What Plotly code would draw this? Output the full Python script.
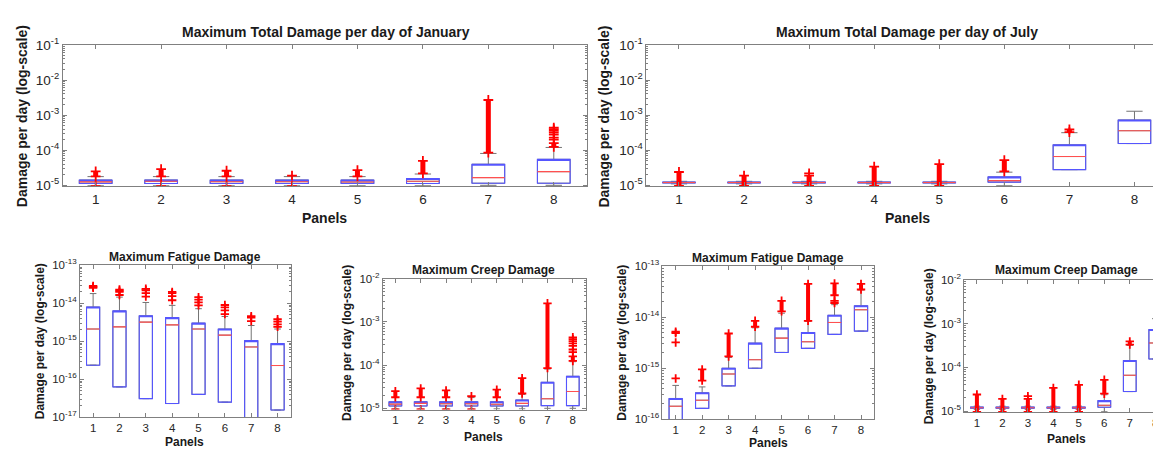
import plotly.graph_objects as go

FONT = "Liberation Sans, Arial, sans-serif"
panels = [1, 2, 3, 4, 5, 6, 7, 8]
panel_labels = ["1", "2", "3", "4", "5", "6", "7", "8"]

# ---------------- January total damage (also = January creep damage) ----------------
jan_lw = [9.7e-6, 9.7e-6, 9.7e-6, 9.7e-6, 9.7e-6, 9.7e-6, 1.0e-5, 1.0e-5]
jan_q1 = [1.13e-5, 1.13e-5, 1.13e-5, 1.13e-5, 1.13e-5, 1.13e-5, 1.15e-5, 1.15e-5]
jan_med = [1.25e-5, 1.30e-5, 1.27e-5, 1.27e-5, 1.24e-5, 1.30e-5, 1.66e-5, 2.45e-5]
jan_q3 = [1.42e-5, 1.42e-5, 1.42e-5, 1.42e-5, 1.42e-5, 1.56e-5, 4.0e-5, 5.5e-5]
jan_uw = [1.77e-5, 1.77e-5, 1.77e-5, 1.77e-5, 1.77e-5, 2.1e-5, 8.1e-5, 1.2e-4]
jan_band_lo = [1.8e-5, 1.8e-5, 1.8e-5, None, 1.8e-5, 2.2e-5, 8.5e-5, 1.25e-4]
jan_band_hi = [2.5e-5, 2.9e-5, 2.6e-5, None, 2.7e-5, 5.0e-5, 2.7e-3, 1.6e-4]
jan_points = [[9.4e-6], [9.4e-6], [9.4e-6], [9.4e-6, 1.9e-5], [], [], [],
              [2.0e-4, 2.3e-4, 2.8e-4, 3.2e-4, 3.6e-4, 4.0e-4, 4.4e-4]]

# ---------------- July total damage (also = July creep damage) ----------------
jul_lw = [1.1e-5, 1.1e-5, 1.1e-5, 1.1e-5, 1.1e-5, 9.7e-6, 2.8e-5, 1.55e-4]
jul_q1 = [1.17e-5, 1.17e-5, 1.17e-5, 1.17e-5, 1.17e-5, 1.23e-5, 2.8e-5, 1.55e-4]
jul_med = [1.2e-5, 1.2e-5, 1.2e-5, 1.2e-5, 1.2e-5, 1.36e-5, 6.6e-5, 3.6e-4]
jul_q3 = [1.24e-5, 1.24e-5, 1.24e-5, 1.24e-5, 1.24e-5, 1.74e-5, 1.43e-4, 7.3e-4]
jul_uw = [1.3e-5, 1.3e-5, 1.3e-5, 1.3e-5, 1.3e-5, 2.37e-5, 3.16e-4, 1.29e-3]
jul_band_lo = [9.6e-6, 9.6e-6, 9.6e-6, 9.6e-6, 9.6e-6, 2.5e-5, 3.3e-4, None]
jul_band_hi = [2.4e-5, 1.9e-5, 1.9e-5, 3.4e-5, 4.0e-5, 5.2e-5, 3.9e-4, None]
jul_points = [[], [], [2.2e-5], [], [], [], [], []]

# ---------------- January fatigue damage ----------------
fjan_q1 = [2.35e-16, 6.3e-17, 3.1e-17, 2.3e-17, 4.0e-17, 2.5e-17, 9.0e-18, 1.55e-17]
fjan_lw = [2.35e-16, 6.3e-17, 3.1e-17, 2.3e-17, 4.0e-17, 2.5e-17, 9.0e-18, 1.55e-17]
fjan_med = [2.1e-15, 2.4e-15, 3.2e-15, 2.7e-15, 2.1e-15, 1.45e-15, 7.1e-16, 2.3e-16]
fjan_q3 = [8.0e-15, 6.3e-15, 4.7e-15, 4.2e-15, 3.0e-15, 2.1e-15, 1.04e-15, 8.7e-16]
fjan_uw = [1.8e-14, 1.45e-14, 1.05e-14, 8.8e-15, 7.2e-15, 4.5e-15, 2.6e-15, 2.1e-15]
fjan_band_lo = [None, None, None, None, None, None, None, None]
fjan_band_hi = [None, None, None, None, None, None, None, None]
fjan_points = [[2.55e-14, 2.7e-14, 2.85e-14],
               [1.65e-14, 2.0e-14, 2.15e-14, 2.3e-14],
               [1.5e-14, 1.85e-14, 2.2e-14, 2.4e-14],
               [1.2e-14, 1.55e-14, 1.85e-14, 2.0e-14],
               [8.8e-15, 1.05e-14, 1.25e-14, 1.45e-14],
               [5.2e-15, 6.5e-15, 7.8e-15, 9.0e-15],
               [3.4e-15, 4.2e-15, 4.6e-15],
               [2.4e-15, 2.8e-15, 3.3e-15, 3.8e-15]]

# ---------------- July fatigue damage ----------------
fjul_q1 = [9.0e-17, 1.63e-16, 4.5e-16, 1.0e-15, 2.04e-15, 2.45e-15, 4.6e-15, 5.35e-15]
fjul_lw = [9.0e-17, 1.63e-16, 4.5e-16, 1.0e-15, 2.04e-15, 2.45e-15, 4.6e-15, 5.35e-15]
fjul_med = [1.8e-16, 2.36e-16, 7.7e-16, 1.47e-15, 3.9e-15, 3.3e-15, 7.9e-15, 1.4e-14]
fjul_q3 = [2.55e-16, 3.3e-16, 1.0e-15, 3.1e-15, 6.1e-15, 5.0e-15, 1.09e-14, 1.68e-14]
fjul_uw = [4.6e-16, 4.3e-16, 1.63e-15, 6.2e-15, 1.2e-14, 8.3e-15, 1.76e-14, 3.43e-14]
fjul_band_lo = [None, 5.7e-16, 1.7e-15, 6.5e-15, 1.3e-14, 8.5e-15, 2.7e-14, 3.5e-14]
fjul_band_hi = [None, 9.5e-16, 4.8e-15, 8.5e-15, 2.1e-14, 4.5e-14, 4.6e-14, 4.5e-14]
fjul_points = [[6.3e-16, 3.2e-15, 4.9e-15, 5.2e-15], [], [], [], [], [],
               [1.9e-14, 2.1e-14], []]

# ---------------- text ----------------
title_jan = "Maximum Total Damage per day of January"
title_jul = "Maximum Total Damage per day of July"
title_fat = "Maximum Fatigue Damage"
title_creep = "Maximum Creep Damage"
ylabel = "Damage per day (log-scale)"
xlabel = "Panels"

W, H = 1161, 449
BOX_BLUE = "rgb(85,85,255)"
MED_RED = "rgb(255,80,80)"
WHISK = "rgb(115,115,115)"
OUT_RED = "rgb(255,0,0)"
AXC = "#808080"
TXT = "#262626"

# subplot geometry in pixels: (left, right, top, bottom)
geom = {
    1: (55, 579, 28, 175),
    2: (639, 1160, 28, 175),
    3: (72, 283, 257, 415),
    4: (375, 578, 271, 407),
    5: (655, 867, 258, 417),
    6: (957, 1161, 272, 410),
}

fig = go.Figure()


def sup(e):
    return "10<sup>%d</sup>" % e


def add_panel(k, lw, q1, med, q3, uw, blo, bhi, pts, yexp, tick_fs, msize, bandw):
    xa = "x" if k == 1 else "x%d" % k
    ya = "y" if k == 1 else "y%d" % k
    common = dict(x=panels, width=0.5, whiskerwidth=0.5, boxpoints=False,
                  fillcolor="rgba(0,0,0,0)", xaxis=xa, yaxis=ya,
                  showlegend=False, hoverinfo="skip")
    # whiskers (and caps)
    fig.add_trace(go.Box(q1=q1, median=med, q3=q3, lowerfence=lw, upperfence=uw,
                         line=dict(color=WHISK, width=1), **common))
    # box body
    fig.add_trace(go.Box(q1=q1, median=q3, q3=q3, lowerfence=q1, upperfence=q3,
                         line=dict(color=BOX_BLUE, width=1.1), **common))
    # median line
    fig.add_trace(go.Box(q1=med, median=med, q3=med, lowerfence=med, upperfence=med,
                         line=dict(color=MED_RED, width=1.1), **common))
    # dense outlier bands
    bx, by = [], []
    for p, lo, hi in zip(panels, blo, bhi):
        if lo is None:
            continue
        bx += [p, p, None]
        by += [lo, hi, None]
    if bx:
        fig.add_trace(go.Scatter(x=bx, y=by, mode="lines",
                                 line=dict(color=OUT_RED, width=bandw),
                                 xaxis=xa, yaxis=ya, showlegend=False, hoverinfo="skip"))
    # individual outliers (+ markers)
    px, py = [], []
    for p, vals, lo, hi in zip(panels, pts, blo, bhi):
        for v in vals:
            px.append(p)
            py.append(v)
        if lo is not None:
            px += [p, p]
            py += [lo, hi]
    if px:
        fig.add_trace(go.Scatter(x=px, y=py, mode="markers",
                                 marker=dict(symbol="cross-thin", size=msize,
                                             line=dict(color=OUT_RED, width=1.8)),
                                 xaxis=xa, yaxis=ya, showlegend=False, hoverinfo="skip"))
    # axes
    l, r, t, b = geom[k]
    e0, e1 = yexp
    lo_range = e0 - 0.03 if e0 == -5 else e0
    tickv = [10.0 ** e for e in range(e0, e1 + 1)]
    tickt = [sup(e) for e in range(e0, e1 + 1)]
    minor_v = []
    for e in range(e0 - 1, e1):
        for m in [2, 3, 4, 5, 6, 7, 8, 9]:
            minor_v.append(m * 10.0 ** e)
    xkey = "xaxis" if k == 1 else "xaxis%d" % k
    ykey = "yaxis" if k == 1 else "yaxis%d" % k
    fig.layout[xkey] = dict(domain=[l / W, r / W], anchor=ya, range=[0.5, 8.5],
                            tickmode="array", tickvals=panels, ticktext=panel_labels,
                            ticks="inside", ticklen=4, tickcolor=AXC,
                            showline=True, linecolor=AXC, linewidth=1, mirror="ticks",
                            showgrid=False, zeroline=False,
                            tickfont=dict(family=FONT, size=tick_fs, color=TXT))
    fig.layout[ykey] = dict(domain=[1 - b / H, 1 - t / H], anchor=xa, type="log",
                            range=[lo_range, e1],
                            tickmode="array", tickvals=tickv, ticktext=tickt,
                            ticks="inside", ticklen=4, tickcolor=AXC,
                            minor=dict(tickmode="array", tickvals=minor_v, ticks="inside",
                                       ticklen=2, tickcolor=AXC, showgrid=False),
                            showline=True, linecolor=AXC, linewidth=1, mirror="ticks",
                            showgrid=False, zeroline=False,
                            tickfont=dict(family=FONT, size=tick_fs, color=TXT))


add_panel(1, jan_lw, jan_q1, jan_med, jan_q3, jan_uw, jan_band_lo, jan_band_hi, jan_points,
          (-5, -1), 13.5, 7, 5)
add_panel(2, jul_lw, jul_q1, jul_med, jul_q3, jul_uw, jul_band_lo, jul_band_hi, jul_points,
          (-5, -1), 13.5, 7, 5)
add_panel(3, fjan_lw, fjan_q1, fjan_med, fjan_q3, fjan_uw, fjan_band_lo, fjan_band_hi, fjan_points,
          (-17, -13), 11.5, 6, 4)
add_panel(4, jan_lw, jan_q1, jan_med, jan_q3, jan_uw, jan_band_lo, jan_band_hi, jan_points,
          (-5, -2), 11.5, 6, 4)
add_panel(5, fjul_lw, fjul_q1, fjul_med, fjul_q3, fjul_uw, fjul_band_lo, fjul_band_hi, fjul_points,
          (-16, -13), 11.5, 6, 4)
add_panel(6, jul_lw, jul_q1, jul_med, jul_q3, jul_uw, jul_band_lo, jul_band_hi, jul_points,
          (-5, -2), 11.5, 6, 4)

# ---------------- annotations (titles / axis labels) ----------------
ann = []


def txt(x, y, s, size, angle=0):
    ann.append(dict(x=x / W, y=1 - y / H, xref="paper", yref="paper", text="<b>%s</b>" % s,
                    showarrow=False, textangle=angle, xanchor="center", yanchor="middle",
                    font=dict(family=FONT, size=size, color="#1a1a1a")))


txt(318, 15, title_jan, 14)
txt(900, 15, title_jul, 14)
txt(177, 248, title_fat, 12)
txt(476, 262, title_creep, 12)
txt(761, 249, title_fat, 12)
txt(1059, 262, title_creep, 12)

txt(317, 208, xlabel, 14)
txt(900, 208, xlabel, 14)
txt(177, 441, xlabel, 12)
txt(476, 436, xlabel, 12)
txt(761, 442, xlabel, 12)
txt(1059, 438, xlabel, 12)

txt(14, 102, ylabel, 14, -90)
txt(597, 102, ylabel, 14, -90)
txt(32, 336, ylabel, 12, -90)
txt(339, 338, ylabel, 12, -90)
txt(615, 337, ylabel, 12, -90)
txt(922, 341, ylabel, 12, -90)

fig.update_layout(width=W, height=H, margin=dict(l=0, r=0, t=0, b=0),
                  paper_bgcolor="white", plot_bgcolor="white",
                  boxmode="overlay", showlegend=False, annotations=ann)

fig.write_html("out.html")
